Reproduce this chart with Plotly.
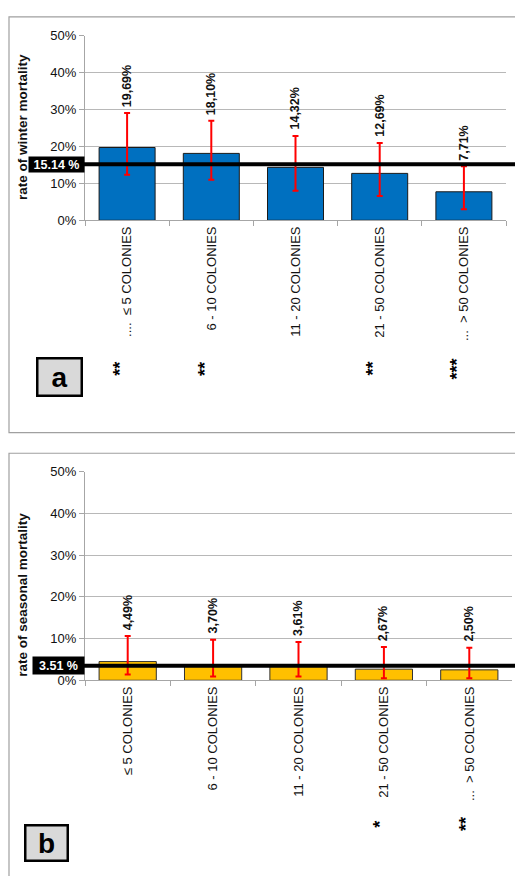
import plotly.graph_objects as go

W, H = 515, 876

categories = ["c1", "c2", "c3", "c4", "c5"]
tick_a = ["....  ≤ 5 COLONIES", "6 - 10 COLONIES", "11 - 20 COLONIES", "21 - 50 COLONIES", "...  > 50 COLONIES"]
tick_b = ["≤ 5 COLONIES", "6 - 10 COLONIES", "11 - 20 COLONIES", "21 - 50 COLONIES", "...  > 50 COLONIES"]
y_tickvals = [0, 10, 20, 30, 40, 50]
y_ticktext = ["0%", "10%", "20%", "30%", "40%", "50%"]

winter = [19.69, 18.10, 14.32, 12.69, 7.71]
winter_labels = ["19,69%", "18,10%", "14,32%", "12,69%", "7,71%"]
winter_upper = [29.0, 26.9, 22.8, 20.9, 14.6]
winter_lower = [12.3, 11.0, 8.0, 6.6, 3.0]
winter_mean = 15.14
winter_sig = ["**", "**", "", "**", "***"]

seasonal = [4.49, 3.70, 3.61, 2.67, 2.50]
seasonal_labels = ["4,49%", "3,70%", "3,61%", "2,67%", "2,50%"]
seasonal_upper = [10.6, 9.7, 9.2, 8.0, 7.8]
seasonal_lower = [1.4, 0.9, 0.9, 0.5, 0.5]
seasonal_mean = 3.51
seasonal_sig = ["", "", "", "*", "**"]

FONT = "Liberation Sans, Arial, sans-serif"


def px_x(x):
    return x / W


def px_y(y):
    return 1 - y / H


fig = go.Figure()

fig.add_trace(go.Bar(
    x=categories, y=winter, xaxis="x", yaxis="y", width=0.665,
    marker=dict(color="#0070c0", line=dict(color="#1a1a1a", width=1)),
    error_y=dict(type="data", symmetric=False,
                 array=[u - v for u, v in zip(winter_upper, winter)],
                 arrayminus=[v - l for v, l in zip(winter, winter_lower)],
                 color="#ff0000", thickness=2, width=3),
    showlegend=False, hoverinfo="skip"))

fig.add_trace(go.Bar(
    x=categories, y=seasonal, xaxis="x2", yaxis="y2", width=0.67,
    marker=dict(color="#ffc000", line=dict(color="#333333", width=1)),
    error_y=dict(type="data", symmetric=False,
                 array=[u - v for u, v in zip(seasonal_upper, seasonal)],
                 arrayminus=[v - l for v, l in zip(seasonal, seasonal_lower)],
                 color="#ff0000", thickness=2, width=3),
    showlegend=False, hoverinfo="skip"))

axis_common = dict(showline=True, linecolor="#a6a6a6", linewidth=1,
                   tickfont=dict(family=FONT, size=13, color="#111111"))

yax = dict(range=[0, 50], tickmode="array", tickvals=y_tickvals, ticktext=y_ticktext,
           showgrid=True, gridcolor="#b8b8b8", gridwidth=1, zeroline=False,
           ticks="outside", ticklen=5, tickcolor="#a6a6a6", fixedrange=True,
           **axis_common)
xax = dict(type="category", tickmode="array", tickvals=categories,
           tickangle=-90, ticks="outside", tickson="boundaries", ticklen=5,
           tickcolor="#a6a6a6", showgrid=False, range=[-0.5, 4.5], fixedrange=True,
           **axis_common)

fig.update_layout(
    width=W, height=H, autosize=False,
    margin=dict(l=0, r=0, t=0, b=0),
    paper_bgcolor="white", plot_bgcolor="white",
    bargap=0.33,
    xaxis=dict(domain=[px_x(85), px_x(506)], anchor="y", ticktext=tick_a, **xax),
    yaxis=dict(domain=[px_y(217), px_y(29)], anchor="x", **yax),
    xaxis2=dict(domain=[px_x(85), px_x(512)], anchor="y2", ticktext=tick_b, **xax),
    yaxis2=dict(domain=[px_y(685), px_y(473)], anchor="x2", **yax),
)

shapes = []
# panel frames
shapes.append(dict(type="rect", xref="paper", yref="paper",
                   x0=px_x(9), x1=px_x(530), y0=px_y(433), y1=px_y(10),
                   line=dict(color="#a0a0a0", width=1.2), layer="below"))
shapes.append(dict(type="rect", xref="paper", yref="paper",
                   x0=px_x(9), x1=px_x(530), y0=px_y(900), y1=px_y(454),
                   line=dict(color="#a0a0a0", width=1.2), layer="below"))
# mean lines
shapes.append(dict(type="line", xref="paper", yref="y",
                   x0=px_x(29), x1=1, y0=winter_mean, y1=winter_mean,
                   line=dict(color="black", width=4)))
shapes.append(dict(type="line", xref="paper", yref="y2",
                   x0=px_x(33), x1=1, y0=seasonal_mean, y1=seasonal_mean,
                   line=dict(color="black", width=4)))
fig.update_layout(shapes=shapes)

ann = []
# value labels
for c, v, up in zip(categories, winter_labels, winter_upper):
    ann.append(dict(x=c, y=up, xref="x", yref="y", text="<b>%s</b>" % v,
                    textangle=-90, showarrow=False, yanchor="bottom", xanchor="center",
                    yshift=4, font=dict(family=FONT, size=12.5, color="#111111")))
for c, v, up in zip(categories, seasonal_labels, seasonal_upper):
    ann.append(dict(x=c, y=up, xref="x2", yref="y2", text="<b>%s</b>" % v,
                    textangle=-90, showarrow=False, yanchor="bottom", xanchor="center",
                    yshift=4, font=dict(family=FONT, size=12.5, color="#111111")))

# significance stars
for c, s in zip(categories, winter_sig):
    if s:
        ann.append(dict(x=c, y=px_y(368), xref="x", yref="paper", text="<b>%s</b>" % s,
                        textangle=-90, showarrow=False, xshift=-7,
                        xanchor="center", yanchor="middle",
                        font=dict(family=FONT, size=18, color="black")))
for c, s in zip(categories, seasonal_sig):
    if s:
        ann.append(dict(x=c, y=px_y(831), xref="x2", yref="paper", text="<b>%s</b>" % s,
                        textangle=-90, showarrow=False, xshift=-4,
                        xanchor="center", yanchor="middle",
                        font=dict(family=FONT, size=18, color="black")))

# mean labels
ann.append(dict(x=px_x(85), y=winter_mean, xref="paper", yref="y",
                text="<b>15.14 %</b>", showarrow=False, xanchor="right", yanchor="middle",
                bgcolor="black", borderpad=0, width=55, height=15, align="center",
                font=dict(family=FONT, size=12.5, color="white")))
ann.append(dict(x=px_x(85), y=seasonal_mean, xref="paper", yref="y2",
                text="<b>3.51 %</b>", showarrow=False, xanchor="right", yanchor="middle",
                bgcolor="black", borderpad=0, width=51, height=17, align="center",
                font=dict(family=FONT, size=12.5, color="white")))

# axis titles
ann.append(dict(x=px_x(23), y=px_y(122), xref="paper", yref="paper",
                text="<b>rate of winter mortality</b>", textangle=-90, showarrow=False,
                xanchor="center", yanchor="middle",
                font=dict(family=FONT, size=13.5, color="#111111")))
ann.append(dict(x=px_x(23), y=px_y(598), xref="paper", yref="paper",
                text="<b>rate of seasonal mortality</b>", textangle=-90, showarrow=False,
                xanchor="center", yanchor="middle",
                font=dict(family=FONT, size=13.5, color="#111111")))

# panel letters
ann.append(dict(x=px_x(59), y=px_y(376.5), xref="paper", yref="paper",
                text="<b>a</b>", showarrow=False, width=40, height=33,
                xanchor="center", yanchor="middle",
                bgcolor="#d9d9d9", bordercolor="black", borderwidth=2.5,
                font=dict(family=FONT, size=28, color="black")))
ann.append(dict(x=px_x(46), y=px_y(850.5), xref="paper", yref="paper",
                text="<b>b</b>", showarrow=False, width=38, height=31,
                xanchor="center", yanchor="middle",
                bgcolor="#d9d9d9", bordercolor="black", borderwidth=2.5,
                font=dict(family=FONT, size=28, color="black")))

fig.update_layout(annotations=ann)

fig.write_html("out.html")
